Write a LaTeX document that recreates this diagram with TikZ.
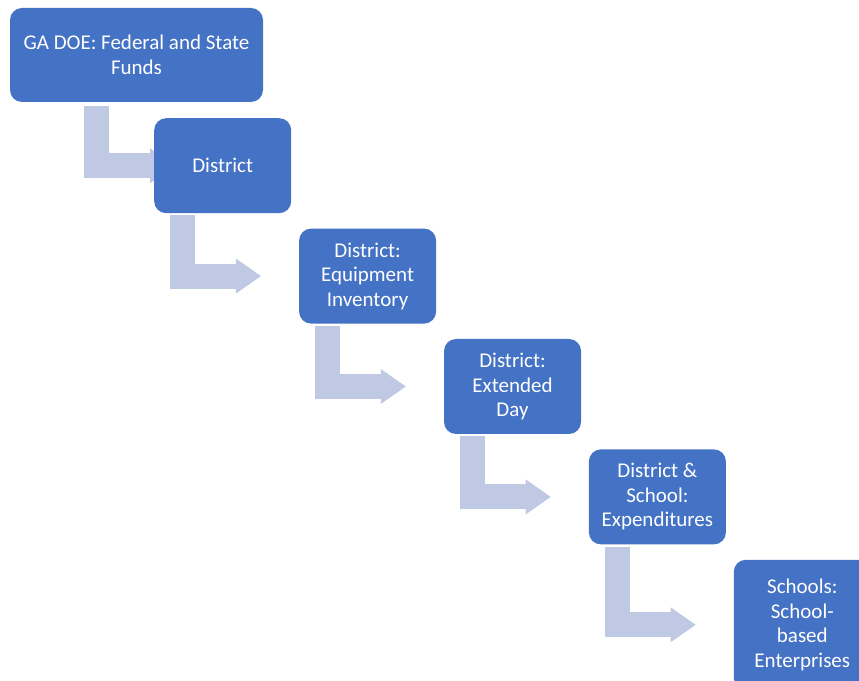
\documentclass[tikz,border=0pt]{standalone}
\usepackage{fontspec}
\setmainfont{Carlito}
\usetikzlibrary{positioning,calc,arrows.meta,backgrounds}
\definecolor{boxblue}{RGB}{68,114,196}
\definecolor{flowgray}{RGB}{191,201,227}

\begin{document}
\begin{tikzpicture}[x=1pt,y=1pt,
  stage/.style={rectangle,fill=boxblue,rounded corners=12pt,text=white,align=center,
    minimum width=137pt,minimum height=95pt,font=\fontsize{21}{24.5}\selectfont},
  flow/.style={draw=flowgray,line width=25pt,-{Triangle[width=35pt,length=25pt,line width=0pt]}}]

\useasboundingbox (0,0) rectangle (859,680);
\clip (0,0) rectangle (859,680);

%%%%%%%%%%%%%%%%%%%%%% STAGES

\node (GA) [stage,minimum width=253pt,minimum height=94pt] at (136.5,625) {GA DOE: Federal and State\\Funds};

\node (Dis) [stage,anchor=north west] at (154,562) {District};
\node (Eq) [stage,below right=15pt and 7.5pt of Dis] {District:\\Equipment\\Inventory};
\node (Ext) [stage,below right=15pt and 7.5pt of Eq] {District:\\Extended\\Day};
\node (Exp) [stage,below right=15pt and 7.5pt of Ext] {District \&\\School:\\Expenditures};
\node (Sch) [stage,minimum height=130pt,below right=15pt and 7.5pt of Exp] {Schools:\\School-\\based\\Enterprises};

%%%%%%%%%%%%%%%%%%%%%% FLOW

\begin{pgfonlayer}{background}
\draw[flow] ($(GA.south)+(-40,-4)$) |- ($(Dis.west)+(21,0)$);
\draw[flow] ($(Dis.south)+(-40,-2)$) |- ($(Eq.west)+(-38,0)$);
\draw[flow] ($(Eq.south)+(-40,-2)$) |- ($(Ext.west)+(-38,0)$);
\draw[flow] ($(Ext.south)+(-40,-2)$) |- ($(Exp.west)+(-38,0)$);
\draw[flow] ($(Exp.south)+(-40,-2)$) |- ($(Sch.west)+(-38,0)$);
\end{pgfonlayer}

\end{tikzpicture}
\end{document}
